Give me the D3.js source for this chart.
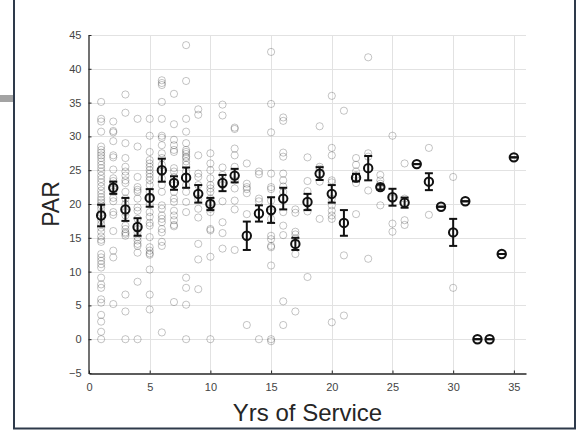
<!DOCTYPE html>
<html>
<head>
<meta charset="utf-8">
<script src="https://cdn.jsdelivr.net/npm/d3@7"></script>
<style>
  html, body { margin: 0; padding: 0; background: #fff; }
  svg { display: block; }
  text { font-family: Arial, "Liberation Sans", Helvetica, sans-serif; }
</style>
</head>
<body>
<svg id="chart" width="576" height="431"></svg>
<script>
// Years of service (one group per year)
const years = d3.range(1, 36);

// Group mean PAR per year
const meanPAR = [18.3, 22.4, 19.2, 16.6, 20.9, 25.0, 23.1, 23.9, 21.5, 20.0,
                 23.1, 24.2, 15.3, 18.6, 19.1, 20.8, 14.1, 20.3, 24.5, 21.5,
                 17.2, 23.9, 25.3, 22.5, 21.0, 20.2, 25.9, 23.3, 19.6, 15.8,
                 20.4, 0, 0, 12.6, 26.9];

// Standard error of each group mean
const semPAR = [1.6, 0.9, 1.7, 1.3, 1.3, 1.7, 1.0, 1.5, 1.3, 0.9,
                1.2, 1.0, 2.1, 1.2, 1.9, 1.6, 0.9, 1.2, 0.95, 1.3,
                1.9, 0.55, 1.8, 0.35, 1.25, 0.75, 0, 1.25, 0, 2.0,
                0, 0, 0, 0, 0];

// Individual PAR scores, one list per year of service
const rawPAR = [
  [35.1, 32.6, 32.2, 30.7, 28.5, 28.0, 27.6, 27.2, 26.8, 26.3, 25.8, 25.3, 24.8, 24.2, 23.7, 23.2,
   22.6, 22.0, 21.5, 21.0, 20.6, 20.2, 19.8, 19.3, 18.7, 18.2, 17.6, 17.0, 16.5, 15.9, 15.2, 14.7,
   14.4, 12.6, 12.1, 11.6, 11.1, 10.6, 9.1, 8.1, 7.6, 5.9, 5.4, 3.6, 2.6, 1.1, 0],
  [32.2, 30.8, 30.6, 29.3, 27.2, 26.9, 25.1, 23.8, 23.4, 23.0, 22.3, 21.8, 20.9, 20.4, 18.8, 18.4, 16.0, 13.1, 12.1, 5.2],
  [36.2, 33.5, 29.0, 26.8, 25.5, 24.8, 24.2, 23.5, 23.1, 21.8, 20.8, 20.0, 18.8, 18.3, 16.8, 16.3, 15.8, 15.6, 15.3, 6.6, 4.1, 0],
  [32.6, 28.5, 24.0, 22.5, 22.1, 21.8, 20.8, 19.5, 19.0, 17.8, 16.3, 15.8, 15.1, 14.6, 14.1, 13.8, 12.8, 8.5, 0],
  [32.6, 30.1, 27.7, 26.5, 26.0, 25.5, 25.0, 24.5, 24.0, 23.5, 22.8, 21.8, 20.8, 20.0, 18.8, 18.1, 17.2,
   16.8, 15.1, 13.6, 13.1, 12.7, 12.5, 10.3, 6.6, 4.4],
  [38.3, 37.9, 37.6, 35.1, 32.6, 30.1, 29.8, 28.7, 27.5, 26.8, 25.8, 24.8, 23.8, 22.8, 21.8, 19.8, 19.3,
   18.3, 17.8, 17.3, 16.3, 15.8, 14.4, 13.8, 1.0],
  [36.3, 31.8, 29.5, 28.7, 28.0, 27.7, 25.3, 24.8, 24.0, 22.8, 21.8, 20.8, 20.3, 19.0, 18.3, 17.6, 16.9, 16.7, 5.5],
  [43.5, 38.2, 32.6, 30.7, 29.0, 28.0, 27.7, 27.4, 27.0, 26.8, 26.3, 25.8, 24.8, 22.8, 21.8, 20.3, 18.8, 9.1, 7.6, 5.1, 0],
  [34.0, 33.2, 27.2, 24.5, 24.0, 22.8, 20.8, 19.3, 18.0, 14.1, 11.8, 7.4],
  [27.5, 26.0, 25.0, 23.8, 22.8, 22.3, 21.8, 20.8, 19.3, 18.8, 16.3, 16.1, 12.2, 0],
  [34.7, 33.1, 25.4, 24.3, 22.8, 20.4, 17.3, 15.7, 13.4],
  [31.3, 31.1, 28.2, 27.2, 25.5, 23.5, 22.3, 20.5, 19.2, 13.2],
  [26.0, 23.0, 22.5, 22.2, 21.6, 18.5, 2.1],
  [24.8, 24.4, 20.8, 20.4, 0],
  [42.5, 34.8, 30.6, 24.5, 22.5, 22.2, 20.5, 18.8, 17.8, 15.3, 14.8, 13.8, 13.6, 10.9, 0, -0.3],
  [32.8, 32.3, 27.6, 27.0, 24.5, 23.5, 22.6, 21.8, 18.8, 16.8, 15.4, 5.6, 2.1],
  [19.2, 18.7, 15.9, 15.5, 14.9, 12.6, 4.1],
  [26.9, 23.4, 21.9, 18.9, 9.2],
  [31.5, 25.5, 25.2, 23.3, 17.8],
  [36.0, 28.3, 27.2, 23.5, 23.2, 20.8, 19.8, 19.0, 18.3, 17.8, 2.5],
  [33.8, 12.4, 3.5],
  [26.8, 25.8, 24.8, 24.3, 23.1, 18.5],
  [41.7, 27.5, 27.0, 22.0, 11.9],
  [24.3, 23.5, 23.0, 22.5, 19.8],
  [30.1, 20.8, 17.1, 15.9],
  [26.0, 20.8, 17.6, 16.9],
  [25.9],
  [28.3, 23.3, 18.4],
  [19.6],
  [24.0, 15.8, 7.6],
  [20.4],
  [0],
  [0],
  [12.6],
  [26.9]
];

// Tick values for both axes
const xTicks = [0, 5, 10, 15, 20, 25, 30, 35];
const yTicks = [-5, 0, 5, 10, 15, 20, 25, 30, 35, 40, 45];

const svg = d3.select("#chart");
const plot = { left: 89, right: 526, top: 35, bottom: 373 };

const x = d3.scaleLinear().domain([0, 36]).range([plot.left, plot.right]);
const y = d3.scaleLinear().domain([-5, 45]).range([plot.bottom, plot.top]);

// Outer figure frame and side tab
svg.append("rect").attr("x", 0).attr("y", 95).attr("width", 14).attr("height", 7).attr("fill", "#a3a3a3");
const frame = svg.append("g").attr("stroke", "#2e3a4b").attr("stroke-width", 2).attr("fill", "none");
frame.append("line").attr("x1", 14).attr("x2", 14).attr("y1", 0).attr("y2", 429);
frame.append("line").attr("x1", 13).attr("x2", 576).attr("y1", 428.5).attr("y2", 428.5);
frame.append("line").attr("x1", 575).attr("x2", 575).attr("y1", 0).attr("y2", 429);

// Grid lines
const grid = svg.append("g").attr("stroke", "#e2e2e2").attr("stroke-width", 1);
grid.selectAll("line.gx").data(xTicks.filter(d => d > 0)).join("line")
  .attr("x1", d => Math.round(x(d)) + 0.5).attr("x2", d => Math.round(x(d)) + 0.5)
  .attr("y1", plot.top).attr("y2", plot.bottom);
grid.selectAll("line.gy").data(yTicks.filter(d => d > -5)).join("line")
  .attr("x1", plot.left).attr("x2", plot.right)
  .attr("y1", d => Math.round(y(d)) + 0.5).attr("y2", d => Math.round(y(d)) + 0.5);

// Axes (ticks pointing inward)
const xAxis = d3.axisBottom(x).tickValues(xTicks).tickSize(-3).tickPadding(10).tickSizeOuter(0);
const yAxis = d3.axisLeft(y).tickValues(yTicks).tickSize(-3).tickPadding(7).tickSizeOuter(0);

const gx = svg.append("g").attr("transform", `translate(0,${plot.bottom + 0.5})`).call(xAxis);
const gy = svg.append("g").attr("transform", `translate(${plot.left - 0.5},0)`).call(yAxis);
[gx, gy].forEach(g => {
  g.select(".domain").attr("stroke", "#262626").attr("stroke-width", 1.3);
  g.selectAll(".tick line").attr("stroke", "#262626");
  g.selectAll(".tick text").attr("fill", "#444").style("font-size", "11px");
});

// Individual scores
const rawPoints = [];
rawPAR.forEach((vals, i) => vals.forEach(v => rawPoints.push({ yr: years[i], v })));
svg.append("g").selectAll("circle").data(rawPoints).join("circle")
  .attr("cx", d => x(d.yr)).attr("cy", d => y(d.v)).attr("r", 3.6)
  .attr("fill", "none").attr("stroke", "#000").attr("stroke-opacity", 0.26).attr("stroke-width", 0.9);

// Group means with standard error bars
const means = years.map((yr, i) => ({ yr, m: meanPAR[i], s: semPAR[i] }));
const eb = svg.append("g").attr("stroke", "#111").attr("stroke-width", 2).attr("fill", "none");
eb.selectAll("line.v").data(means).join("line")
  .attr("x1", d => x(d.yr)).attr("x2", d => x(d.yr))
  .attr("y1", d => y(d.m - d.s)).attr("y2", d => y(d.m + d.s));
eb.selectAll("line.lo").data(means).join("line")
  .attr("x1", d => x(d.yr) - 4).attr("x2", d => x(d.yr) + 4)
  .attr("y1", d => y(d.m - d.s)).attr("y2", d => y(d.m - d.s));
eb.selectAll("line.hi").data(means).join("line")
  .attr("x1", d => x(d.yr) - 4).attr("x2", d => x(d.yr) + 4)
  .attr("y1", d => y(d.m + d.s)).attr("y2", d => y(d.m + d.s));
eb.selectAll("circle").data(means).join("circle")
  .attr("cx", d => x(d.yr)).attr("cy", d => y(d.m)).attr("r", 4.2);

// Axis titles
svg.append("text").attr("x", (plot.left + plot.right) / 2).attr("y", 421)
  .attr("text-anchor", "middle").attr("fill", "#262626").style("font-size", "24px")
  .text("Yrs of Service");
svg.append("text").attr("transform", `translate(59,${(plot.top + plot.bottom) / 2}) rotate(-90)`)
  .attr("text-anchor", "middle").attr("fill", "#262626").style("font-size", "23px")
  .text("PAR");
</script>
</body>
</html>
